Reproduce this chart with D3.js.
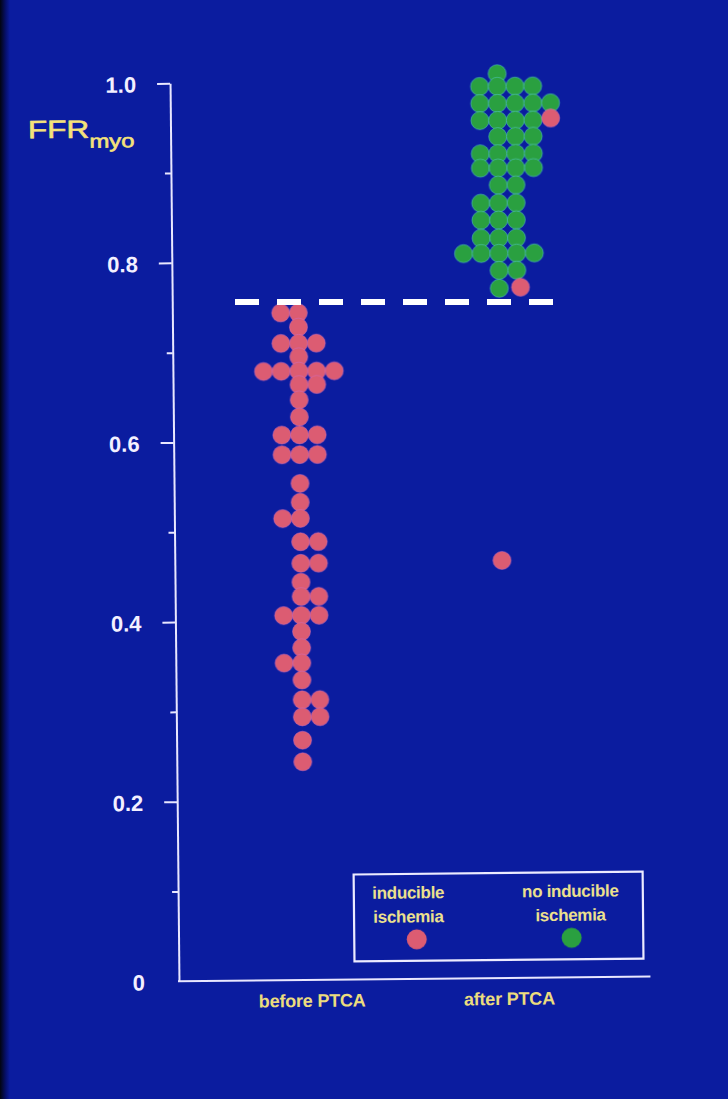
<!DOCTYPE html>
<html>
<head>
<meta charset="utf-8">
<script src="https://cdn.jsdelivr.net/npm/d3@7"></script>
<style>
  html, body { margin: 0; padding: 0; background: #0b1c9f; }
  svg { display: block; }
</style>
</head>
<body>
<script>
// ---- data -------------------------------------------------------------
const categories = ["before PTCA", "after PTCA"];

const yTicks      = [0, 0.1, 0.2, 0.3, 0.4, 0.5, 0.6, 0.7, 0.8, 0.9, 1.0];
const yTickLabels = ["0", "", "0.2", "", "0.4", "", "0.6", "", "0.8", "", "1.0"];

const cutoff = 0.754;

// before PTCA: every lesion showed inducible ischemia
const beforeValues = [
  0.743, 0.743, 0.727, 0.709, 0.709, 0.709, 0.694,
  0.678, 0.678, 0.678, 0.678, 0.678, 0.663, 0.663, 0.646, 0.627,
  0.607, 0.607, 0.607, 0.585, 0.585, 0.585, 0.553, 0.532, 0.514, 0.514,
  0.488, 0.488, 0.464, 0.464, 0.443, 0.427, 0.427, 0.406, 0.406, 0.406,
  0.388, 0.370, 0.353, 0.353, 0.334, 0.312, 0.312, 0.293, 0.293, 0.267, 0.243
];
// swarm slot (in dot widths) of each dot within its row
const beforeSlots = [
  -1, 0, 0, -1, 0, 1, 0,
  -2, -1, 0, 1, 2, 0, 1, 0, 0,
  -1, 0, 1, -1, 0, 1, 0, 0, -1, 0,
  0, 1, 0, 1, 0, 0, 1, -1, 0, 1,
  0, 0, -1, 0, 0, 0, 1, 0, 1, 0, 0
];

// after PTCA, no inducible ischemia
const afterNoIschemiaValues = [
  1.007,
  0.993, 0.993, 0.993, 0.993,
  0.974, 0.974, 0.974, 0.974, 0.974,
  0.955, 0.955, 0.955, 0.955,
  0.937, 0.937, 0.937,
  0.918, 0.918, 0.918, 0.918,
  0.902, 0.902, 0.902, 0.902,
  0.883, 0.883,
  0.863, 0.863, 0.863,
  0.844, 0.844, 0.844,
  0.824, 0.824, 0.824,
  0.807, 0.807, 0.807, 0.807, 0.807,
  0.788, 0.788,
  0.768
];
const afterNoIschemiaSlots = [
  0,
  -1, 0, 1, 2,
  -1, 0, 1, 2, 3,
  -1, 0, 1, 2,
  0, 1, 2,
  -1, 0, 1, 2,
  -1, 0, 1, 2,
  0, 1,
  -1, 0, 1,
  -1, 0, 1,
  -1, 0, 1,
  -2, -1, 0, 1, 2,
  0, 1,
  0
];

// after PTCA, still inducible ischemia
const afterIschemiaValues = [0.957, 0.769, 0.465];
const afterIschemiaSlots  = [3, 1.2, 0];

const legendItems = [
  { lines: ["inducible", "ischemia"], color: "#dc5c72" },
  { lines: ["no inducible", "ischemia"], color: "#2ba041" }
];

// ---- drawing ----------------------------------------------------------
const W = 728, H = 1099;
const RED = "#dc5c72", GREEN = "#2ba041";
const FONT = "'Liberation Sans', Arial, Helvetica, sans-serif";

const svg = d3.select("body").append("svg")
  .attr("width", W).attr("height", H);

const defs = svg.append("defs");
defs.append("filter").attr("id", "soft")
  .append("feGaussianBlur").attr("stdDeviation", 0.7);
const edge = defs.append("linearGradient").attr("id", "edge")
  .attr("x1", 0).attr("x2", 1).attr("y1", 0).attr("y2", 0);
edge.append("stop").attr("offset", 0).attr("stop-color", "#02040f");
edge.append("stop").attr("offset", 0.6).attr("stop-color", "#061070");
edge.append("stop").attr("offset", 1).attr("stop-color", "#0b1c9f");

svg.append("rect").attr("width", W).attr("height", H).attr("fill", "#0b1c9f");
svg.append("rect").attr("width", 10).attr("height", H).attr("fill", "url(#edge)");

// the slide sits very slightly rotated
const g = svg.append("g").attr("transform", "rotate(-0.57, 400, 530)");

const axisX = 174.5;
const y = d3.scaleLinear().domain([0, 1]).range([979, 81]);
const xc = d3.scalePoint().domain(categories).range([300.5, 501.7]);
const slot = d3.scaleLinear().domain([0, 1]).range([0, 17.7]);

// y axis
const yAxis = d3.axisLeft(y)
  .tickValues(yTicks)
  .tickFormat((d, i) => yTickLabels[i])
  .tickSize(13)
  .tickSizeOuter(0)
  .tickPadding(21);

const ax = g.append("g").attr("transform", `translate(${axisX},0)`).call(yAxis);
ax.select(".domain").attr("stroke", "#e9e7ff").attr("stroke-width", 2);
ax.selectAll(".tick line")
  .attr("stroke", "#e9e7ff").attr("stroke-width", 2)
  .attr("x2", (d, i) => yTickLabels[i] === "" ? -6 : -13)
  .attr("display", d => d === 0 ? "none" : null);
ax.selectAll(".tick text")
  .attr("fill", "#f3f0ff")
  .attr("font-family", FONT)
  .attr("font-weight", "bold")
  .attr("font-size", 22)
  .attr("dy", "0.38em");

// x baseline
g.append("line")
  .attr("x1", axisX - 1).attr("x2", 646)
  .attr("y1", y(0)).attr("y2", y(0))
  .attr("stroke", "#e9e7ff").attr("stroke-width", 2);

// category labels
g.selectAll(".cat").data(categories).join("text")
  .attr("class", "cat")
  .attr("x", d => xc(d) + (d === categories[0] ? 7 : 3))
  .attr("y", 1006)
  .attr("text-anchor", "middle")
  .attr("font-family", FONT).attr("font-weight", "bold")
  .attr("font-size", 18).attr("letter-spacing", -0.2)
  .attr("fill", "#ecdc7e")
  .text(d => d);

// y title FFR with subscript
const title = g.append("g").attr("transform", "translate(32,134.6) scale(1.26,1)");
const t = title.append("text")
  .attr("font-family", FONT).attr("font-size", 25)
  .attr("fill", "#f4e27a").attr("stroke", "#f4e27a").attr("stroke-width", 0.6);
t.append("tspan").text("FFR");
t.append("tspan").attr("font-size", 19).attr("dy", 10).text("myo");

// dots
const dots = g.append("g").attr("filter", "url(#soft)");
function drawDots(values, slots, cat, fill, stroke) {
  dots.append("g").selectAll("circle").data(values).join("circle")
    .attr("cx", (d, i) => xc(cat) + slot(slots[i]))
    .attr("cy", d => y(d))
    .attr("r", 9)
    .attr("fill", fill)
    .attr("stroke", stroke).attr("stroke-width", 1);
}
drawDots(afterNoIschemiaValues, afterNoIschemiaSlots, categories[1], GREEN, "rgba(80,200,190,0.55)");
drawDots(beforeValues, beforeSlots, categories[0], RED, "rgba(210,110,190,0.5)");
drawDots(afterIschemiaValues, afterIschemiaSlots, categories[1], RED, "rgba(210,110,190,0.5)");

// legend
const lg = g.append("g");
lg.append("rect")
  .attr("x", 350.2).attr("y", 874).attr("width", 289).attr("height", 87)
  .attr("fill", "none").attr("stroke", "#ecebff").attr("stroke-width", 2.2);
const legendX = [404.6, 566.7];
const legendDotX = [412.7, 567.6];
legendItems.forEach((item, i) => {
  item.lines.forEach((line, j) => {
    lg.append("text")
      .attr("x", legendX[i]).attr("y", 898.5 + j * 24)
      .attr("text-anchor", "middle")
      .attr("font-family", FONT).attr("font-weight", "bold")
      .attr("font-size", 17).attr("letter-spacing", -0.3)
      .attr("fill", "#ebe08e")
      .text(line);
  });
  lg.append("circle")
    .attr("cx", legendDotX[i]).attr("cy", 939.5)
    .attr("r", 10).attr("fill", item.color)
    .attr("filter", "url(#soft)");
});

// cutoff line, level across the plot
svg.append("line")
  .attr("x1", 235).attr("x2", 553)
  .attr("y1", y(cutoff)).attr("y2", y(cutoff))
  .attr("stroke", "#ffffff").attr("stroke-width", 6)
  .attr("stroke-dasharray", "24 18");
</script>
</body>
</html>
